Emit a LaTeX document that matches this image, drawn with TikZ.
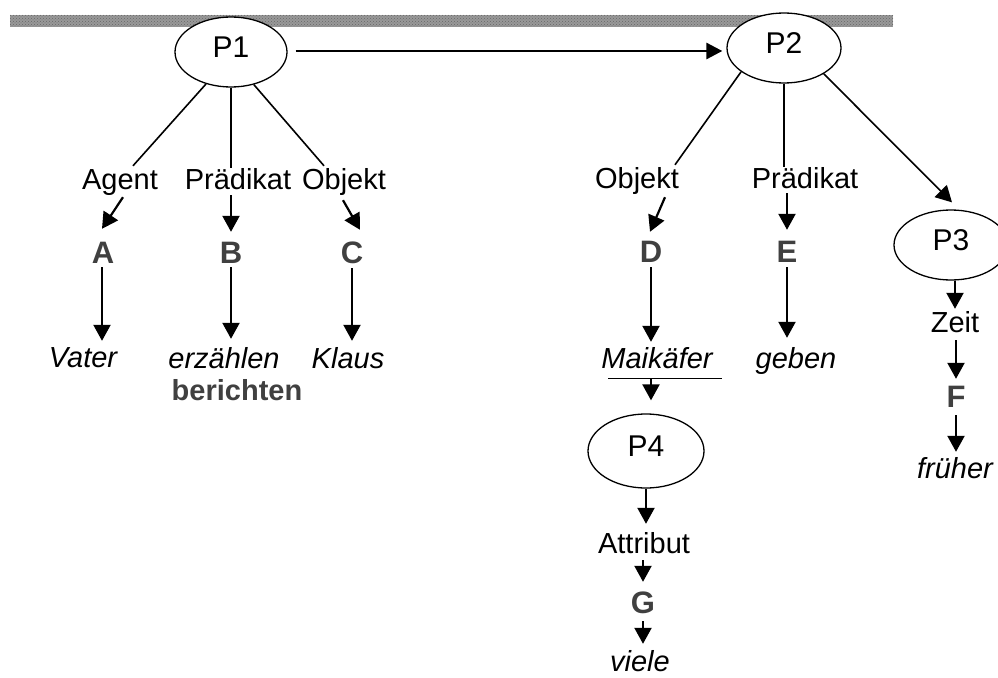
\documentclass[tikz,border=0pt]{standalone}
\usepackage{fontspec}
\setmainfont{Liberation Sans}
\usetikzlibrary{arrows.meta,calc,shapes.geometric,patterns}
\definecolor{letgray}{HTML}{404040}
\begin{document}
\begin{tikzpicture}[x=1pt,y=-1pt,
  txt/.style={font=\fontsize{29}{32}\selectfont, inner sep=0pt,
              text height=21pt, text depth=1pt, anchor=base},
  wrd/.style={txt, font=\fontsize{29}{32}\selectfont\itshape},
  ltr/.style={txt, font=\fontsize{31}{34}\selectfont\bfseries, text=letgray},
  prop/.style={ellipse, draw, fill=white, line width=1.3pt, inner sep=0pt,
               minimum width=112pt, minimum height=70pt,
               font=\fontsize{30}{33}\selectfont, text height=20pt, text depth=10pt},
  ln/.style={line width=1.6pt},
  arr/.style={line width=2.2pt, -{Triangle[length=16pt,width=17pt]}},
  bigarr/.style={line width=2.8pt, -{Triangle[length=16pt,width=16pt]}}]
\useasboundingbox (0,0) rectangle (998,677);

% shaded band along the top
\fill[black!40] (10,15) rectangle (893,27);
\fill[pattern=crosshatch dots, pattern color=black!60] (10,15) rectangle (893,27);

% propositions
\node[prop] (P1) at (231,52) {P1};
\node[prop, minimum width=114pt] (P2) at (784,48) {P2};
\node[prop, minimum width=114pt] (P3) at (951,245) {P3};
\node[prop, minimum width=116pt, minimum height=74pt] (P4) at (646,451) {P4};

% roles and arguments of P1
\node[txt] (Agent)  at (120,189) {Agent};
\node[txt] (Praed1) at (238,189) {Prädikat};
\node[txt] (Obj1)   at (344,189) {Objekt};
\node[ltr] (A) at (103,263) {A};
\node[ltr] (B) at (231,263) {B};
\node[ltr] (C) at (352,263) {C};
\node[wrd] (Vater) at (83,367) {Vater};
\node[wrd] (erz)   at (224,368) {erzählen};
\node[wrd] (Klaus) at (348,368) {Klaus};
\node[txt, font=\fontsize{29}{32}\selectfont\bfseries, text=letgray] (ber) at (237,400) {berichten};

% roles and arguments of P2, P3, P4
\node[txt] (Obj2)   at (637,188) {Objekt};
\node[txt] (Praed2) at (805,188) {Prädikat};
\node[ltr] (D) at (651,262) {D};
\node[ltr] (E) at (787,262) {E};
\node[wrd] (Mai)   at (657,368) {Maikäfer};
\node[wrd] (geben) at (796,368) {geben};
\node[txt] (Attr)  at (644,553) {Attribut};
\node[ltr] (G)     at (643,613) {G};
\node[wrd] (viele) at (640,671) {viele};
\node[txt] (Zeit)  at (955,332) {Zeit};
\node[ltr] (F)     at (956,407) {F};
\node[wrd] (frueh) at (955,478) {früher};

% P1 to P2
\draw[bigarr] ($(P1.east)+(8,-1)$) -- ($(P2.west)+(-4,3)$);

% branches of P1
\draw[ln] (P1.232) -- ($(Agent.north)+(13,-2)$);
\draw[ln] (P1.south) -- (P1.south |- Praed1.north);
\draw[ln] (P1.305) -- ($(Obj1.north)+(-20,-2)$);
\draw[arr] ($(Agent.south)+(3,7)$) -- ($(A.north)+(-1,-13)$);
\draw[arr] ($(B.north |- Praed1.south)+(0,5)$) -- ($(B.north)+(0,-10)$);
\draw[arr] ($(Obj1.south)+(-1,10)$) -- ($(C.north)+(8,-12)$);
\draw[arr, shorten <=3pt, shorten >=5pt] ($(A.south)+(-1,0)$) -- ($(A.south |- Vater.north)+(-1,0)$);
\draw[arr, shorten <=3pt, shorten >=8pt] (B.south) -- (B.south |- erz.north);
\draw[arr, shorten <=4pt, shorten >=6pt] (C.south) -- (C.south |- Klaus.north);

% branches of P2
\draw[ln] (P2.209) -- ($(Obj2.north)+(38,-2)$);
\draw[ln] (P2.south) -- (P2.south |- Praed2.north);
\draw[arr, line width=1.6pt] (P2.327) -- ($(P3.north)+(1,-7)$);
\draw[arr] ($(Obj2.south)+(28,8)$) -- ($(D.north)+(-1,-9)$);
\draw[arr] ($(E.north |- Praed2.south)+(0,4)$) -- ($(E.north)+(0,-11)$);
\draw[arr, shorten <=4pt, shorten >=5pt] (D.south) -- (D.south |- Mai.north);
\draw[arr, shorten <=4pt, shorten >=9pt] (E.south) -- (E.south |- geben.north);

% Maikaefer with its attribute proposition P4
\draw[line width=1.3pt] ($(Mai.south west)+(7,9)$) coordinate (ulL) -- ($(Mai.south east)+(9,9)$) coordinate (ulR);
\draw[arr, shorten >=13pt] (D.south |- ulL) -- (D.south |- P4.north);
\draw[arr, shorten >=8pt] (P4.south) -- (P4.south |- Attr.north);
\draw[arr, shorten <=6pt, shorten >=10pt] (G.north |- Attr.south) -- (G.north);
\draw[arr, shorten <=7pt, shorten >=6pt] (G.south) -- (G.south |- viele.north);

% P3 chain
\draw[arr, shorten >=2pt] (Zeit.north |- P3.south) -- (Zeit.north);
\draw[arr, shorten <=7pt, shorten >=7pt] (F.north |- Zeit.south) -- (F.north);
\draw[arr, shorten <=7pt, shorten >=5pt] (F.south) -- (F.south |- frueh.north);
\end{tikzpicture}
\end{document}
